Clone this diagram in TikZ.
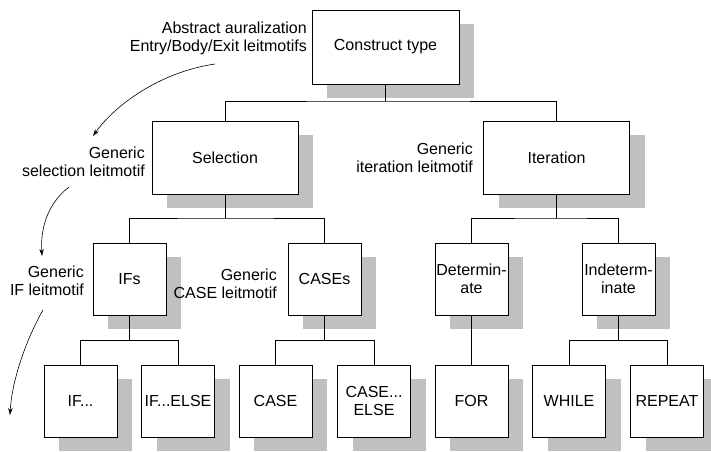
\documentclass[tikz,border=0pt]{standalone}
\usepackage{fontspec}
\setmainfont{Liberation Sans}
\usetikzlibrary{shadows,arrows.meta}
\definecolor{shade}{HTML}{C0C0C0}
\tikzset{
  box/.style={draw=black, line width=0.9pt, fill=white, inner sep=1pt, align=center,
    drop shadow={shadow xshift=15pt, shadow yshift=-14pt, fill=shade, opacity=1, draw=none}},
  big/.style={box, minimum width=146pt, minimum height=73pt},
  small/.style={box, minimum width=73pt, minimum height=72pt},
  lbl/.style={anchor=east, align=right, inner sep=0pt},
  conn/.style={draw=black, line width=0.8pt},
  curvearrow/.style={draw=black, line width=0.6pt, -{Stealth[length=7pt,width=4.5pt]}}
}
\begin{document}
\begin{tikzpicture}[x=1pt,y=-1pt,font=\fontsize{16}{18}\selectfont]
\useasboundingbox (0,0) rectangle (711,451);
% nodes
\node[big, minimum width=147pt, minimum height=74pt] (ct) at (385.5,47) {Construct type};
\node[big] (sel) at (225,157.5) {Selection};
\node[big] (ite) at (556.5,157.5) {Iteration};
\node[small] (ifs) at (129.5,279) {IFs};
\node[small] (cases) at (324.5,279) {CASEs};
\node[small] (det) at (471.5,279) {Determin-\\ate};
\node[small] (ind) at (618.5,279) {Indeterm-\\inate};
\node[small] (if1) at (80.5,401) {IF...};
\node[small] (ifelse) at (178,401) {IF...ELSE};
\node[small] (case) at (275.5,401) {CASE};
\node[small] (caseelse) at (374,401) {CASE...\\ELSE};
\node[small] (for) at (471.5,401) {FOR};
\node[small] (while) at (569,401) {WHILE};
\node[small] (repeat) at (667,401) {REPEAT};
% junctions
\coordinate (j0) at (385.5,101);
\coordinate (j1) at (225,218);
\coordinate (j2) at (556.5,218);
\coordinate (j3) at (129.5,340);
\coordinate (j4) at (324.5,340);
\coordinate (j5) at (618.5,340);
% connectors
\draw[conn] (ct.south) -- (j0);
\draw[conn] (sel.north) |- (j0) -| (ite.north);
\draw[conn] (sel.south) -- (j1);
\draw[conn] (ifs.north) |- (j1) -| (cases.north);
\draw[conn] (ite.south) -- (j2);
\draw[conn] (det.north) |- (j2) -| (ind.north);
\draw[conn] (ifs.south) -- (j3);
\draw[conn] (if1.north) |- (j3) -| (ifelse.north);
\draw[conn] (cases.south) -- (j4);
\draw[conn] (case.north) |- (j4) -| (caseelse.north);
\draw[conn] (det.south) -- (for.north);
\draw[conn] (ind.south) -- (j5);
\draw[conn] (while.north) |- (j5) -| (repeat.north);
% labels
\node[lbl] (labs) at (307,38.5) {Abstract auralization\\Entry/Body/Exit leitmotifs};
\node[lbl] (lsel) at (145,162) {Generic\\selection leitmotif};
\node[lbl] (lite) at (473,158) {Generic\\iteration leitmotif};
\node[lbl] (lif) at (84,281) {Generic\\IF leitmotif};
\node[lbl] (lcase) at (277,284) {Generic\\CASE leitmotif};
% curved arrows
\coordinate (a1s) at (215,64);
\coordinate (a1e) at (93,136);
\coordinate (a2s) at (69,187);
\coordinate (a2e) at (42,256);
\coordinate (a3s) at (43,310);
\coordinate (a3e) at (10,415);
\draw[curvearrow] (a1s) .. controls (160,72) and (115,105) .. (a1e);
\draw[curvearrow] (a2s) .. controls (52,200) and (40,222) .. (a2e);
\draw[curvearrow] (a3s) .. controls (28,336) and (12,378) .. (a3e);
\end{tikzpicture}
\end{document}
